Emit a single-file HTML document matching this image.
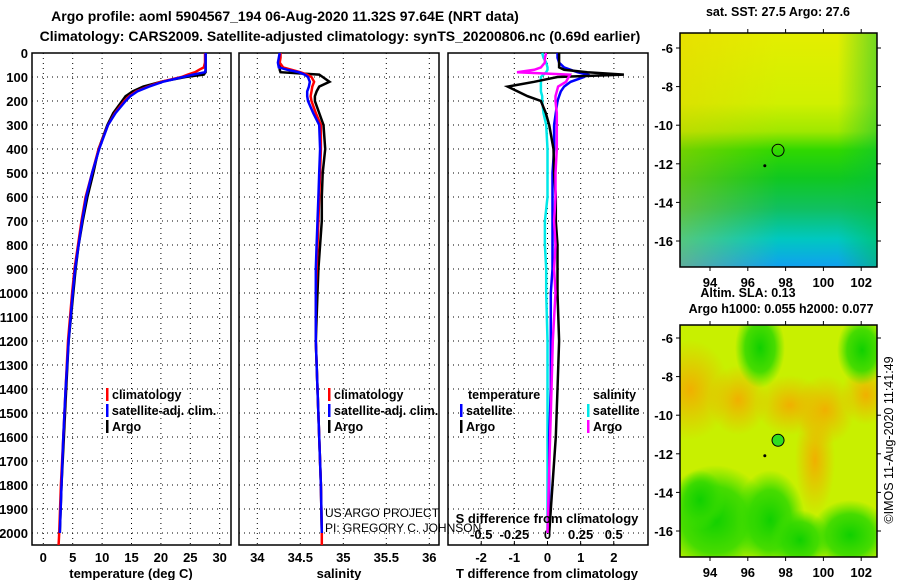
<!DOCTYPE html>
<html><head><meta charset="utf-8">
<style>
html,body{margin:0;padding:0;background:#fff;}
svg{display:block;font-family:"Liberation Sans",sans-serif;font-weight:bold;}
</style></head>
<body>
<svg id="c" width="900" height="580" viewBox="0 0 900 580" xmlns="http://www.w3.org/2000/svg">
<defs>
<linearGradient id="sstg" x1="0" y1="0" x2="0" y2="1">
<stop offset="0" stop-color="#e4ee00"/><stop offset="0.3" stop-color="#d0f000"/><stop offset="0.42" stop-color="#a0e800"/>
<stop offset="0.5" stop-color="#30d800"/><stop offset="0.62" stop-color="#10c820"/><stop offset="0.75" stop-color="#10c060"/>
<stop offset="0.88" stop-color="#00c8c0"/><stop offset="1" stop-color="#10a0f0"/></linearGradient>
<linearGradient id="sstr" x1="0" y1="0" x2="1" y2="0">
<stop offset="0" stop-color="#f0c800" stop-opacity="0.35"/><stop offset="0.5" stop-color="#f0c800" stop-opacity="0"/>
<stop offset="0.8" stop-color="#00c040" stop-opacity="0"/><stop offset="1" stop-color="#00c040" stop-opacity="0.5"/></linearGradient>
<radialGradient id="og"><stop offset="0" stop-color="#f0b000"/><stop offset="1" stop-color="#f0b000" stop-opacity="0"/></radialGradient>
<radialGradient id="gg"><stop offset="0" stop-color="#10d000"/><stop offset="0.6" stop-color="#30d800" stop-opacity="0.85"/><stop offset="1" stop-color="#40e000" stop-opacity="0"/></radialGradient>
<clipPath id="m2c"><rect x="680" y="325" width="197" height="232"/></clipPath>
</defs>
<g id="root"></g>
</svg>
<script>
// ---- data ----
const depth = [0,20,40,60,70,80,90,100,120,140,160,180,200,250,300,400,500,600,700,800,900,1000,1200,1400,1600,1800,2000,2050];
const tClim = [27.5,27.5,27.5,27.3,26.5,25.8,24.6,23.5,20,17.8,15.8,14.6,13.8,12.2,11,9.4,8.3,7.2,6.5,5.9,5.3,4.9,4.2,3.8,3.4,3.0,2.7,2.6];
const tSat  = [27.6,27.6,27.6,27.6,27.6,27.5,25.5,23.8,20.3,18,16,14.8,14,12.3,11,9.5,8.3,7.3,6.6,6.0,5.4,5.0,4.3,3.8,3.4,3.1,2.8];
const tArgo = [27.6,27.6,27.6,27.6,27.6,27.6,27.3,24.2,20,17,15.2,14,13.4,11.9,10.9,9.4,8.5,7.5,6.7,6.0,5.5,5.1,4.3,3.9,3.5,3.1,2.8];
const sClim = [34.27,34.27,34.26,34.3,34.4,34.5,34.58,34.63,34.66,34.64,34.63,34.62,34.63,34.68,34.74,34.74,34.73,34.72,34.71,34.70,34.69,34.68,34.68,34.70,34.72,34.74,34.75,34.75];
const sSat  = [34.26,34.25,34.24,34.25,34.35,34.48,34.55,34.59,34.61,34.60,34.58,34.58,34.59,34.65,34.72,34.73,34.72,34.71,34.70,34.69,34.68,34.68,34.68,34.70,34.72,34.74,34.75];
const sArgo = [34.26,34.26,34.26,34.26,34.26,34.27,34.72,34.76,34.84,34.72,34.69,34.67,34.67,34.72,34.77,34.79,34.76,34.75,34.75,34.73,34.71,34.70,34.68,34.70,34.72,34.74,34.75];
const dTSat  = [0.3,0.3,0.35,0.5,0.7,0.9,1.2,1.1,0.7,0.5,0.4,0.35,0.3,0.25,0.2,0.2,0.15,0.15,0.15,0.15,0.15,0.1,0.1,0.1,0.05,0.05,0.03];
const dTArgo = [0.35,0.35,0.35,0.35,0.5,1.2,2.3,0.3,-0.4,-1.2,-0.9,-0.6,-0.2,-0.05,0.05,0.18,0.2,0.25,0.25,0.3,0.3,0.3,0.35,0.3,0.25,0.15,0.05];
const dSSat  = [-0.04,-0.03,-0.01,0,0,-0.01,-0.03,-0.05,-0.05,-0.05,-0.05,-0.04,-0.04,-0.03,-0.01,0,0,0,-0.02,-0.02,-0.01,-0.01,0,0,0,0,0];
const dSArgo = [-0.01,-0.02,-0.02,-0.05,-0.1,-0.23,0.17,0.16,0.14,0.08,0.07,0.06,0.06,0.07,0.07,0.07,0.06,0.06,0.05,0.06,0.05,0.06,0.04,0.03,0.02,0.01,0];
const depthTicks = [0,100,200,300,400,500,600,700,800,900,1000,1100,1200,1300,1400,1500,1600,1700,1800,1900,2000];
const tTicks = [0,5,10,15,20,25,30];
const sTicks = [34,34.5,35,35.5,36];
const sTickLabels = ["34","34.5","35","35.5","36"];
const dtTicks = [-2,-1,0,1,2];
const dsTicks = [-0.5,-0.25,0,0.25,0.5];
const dsTickLabels = ["-0.5","-0.25","0","0.25","0.5"];
const lonTicks = [94,96,98,100,102];
const latTicks = [-6,-8,-10,-12,-14,-16];
const floatLon = 97.6, floatLat = -11.3;

// ---- scales ----
const yD = d => 53 + d*0.24;
const xT = t => 43.3 + t*5.88;
const xS = s => 257.3 + (s-34)*86;
const xDT = v => 547.5 + v*33.2;
const xDS = v => 547.5 + v*132.5;
const m1x = lo => 710 + (lo-94)*18.9;
const m1y = la => 48 + (-6-la)*19.3;
const m2y = la => 338 + (-6-la)*19.3;

const NS="http://www.w3.org/2000/svg";
const root=document.getElementById('root');
function el(tag,attrs,parent){const e=document.createElementNS(NS,tag);for(const k in attrs)e.setAttribute(k,attrs[k]);(parent||root).appendChild(e);return e;}
function txt(x,y,s,size,anchor,parent){const t=el('text',{x:x,y:y,'font-size':size,'text-anchor':anchor||'start',fill:'#000'},parent);t.textContent=s;return t;}

const panels=[{x0:32,x1:231,name:'temperature-panel'},{x0:239,x1:439,name:'salinity-panel'},{x0:448,x1:648,name:'difference-panel'}];
const Y0=53,Y1=545;

panels.forEach((p,i)=>{
  const g=el('g',{});
  
  
  depthTicks.forEach(d=>{
    const l=el('line',{x1:p.x0,x2:p.x1,y1:yD(d),y2:yD(d),stroke:'#000','stroke-width':1,'stroke-dasharray':'1,4'},g);
    
    
  });
  const xs = i==0?tTicks.map(xT):i==1?sTicks.map(xS):dtTicks.map(xDT);
  xs.forEach(x=>{
    const l=el('line',{x1:x,x2:x,y1:Y0,y2:Y1,stroke:'#000','stroke-width':1,'stroke-dasharray':'1,4'},g);
    
    
  });
  const r=el('rect',{x:p.x0,y:Y0,width:p.x1-p.x0,height:Y1-Y0,fill:'none',stroke:'#000','stroke-width':1.5},g);
  
  
});

depthTicks.forEach(d=>{
  const t=txt(28,yD(d)+5,String(d),13,'end');
  
  
});
tTicks.forEach(v=>{const t=txt(xT(v),562,String(v),13,'middle');
  
  });
sTicks.forEach((v,i)=>{const t=txt(xS(v),562,sTickLabels[i],13,'middle');
  
  });
dtTicks.forEach(v=>{const t=txt(xDT(v),562,String(v),13,'middle');
  
  });
dsTicks.forEach((v,i)=>{const t=txt(xDS(v),539,dsTickLabels[i],13,'middle');
  
  
  const tk=el('line',{x1:xDS(v),x2:xDS(v),y1:Y1-4,y2:Y1,stroke:'#000'});
  
  });

function series(vals,sx,color,name,w){
  const pts=vals.map((v,i)=>sx(v).toFixed(1)+','+yD(depth[i]).toFixed(1)).join(' ');
  const pl=el('polyline',{points:pts,fill:'none',stroke:color,'stroke-width':w||2.5,'stroke-linejoin':'miter'});
  
  
}
series(tArgo,xT,'#000','temperature-argo-line');
series(tClim,xT,'#f00','temperature-climatology-line');
series(tSat,xT,'#00f','temperature-satellite-line');
series(sArgo,xS,'#000','salinity-argo-line');
series(sClim,xS,'#f00','salinity-climatology-line');
series(sSat,xS,'#00f','salinity-satellite-line');
series(dSSat,xDS,'#00e8e8','s-diff-satellite-line');
series(dTSat,xDT,'#00f','t-diff-satellite-line');
series(dTArgo,xDT,'#000','t-diff-argo-line');
series(dSArgo,xDS,'#f0f','s-diff-argo-line');

function legend(x,y,color,label,name){
  const m=el('rect',{x:x,y:y-11,width:2.5,height:13,fill:color});
  
  
  const t=txt(x+6,y,label,12.5);
  
  
}
legend(106,399,'#f00','climatology','legend-climatology');
legend(106,415,'#00f','satellite-adj. clim.','legend-satellite-adj');
legend(106,431,'#000','Argo','legend-argo');
legend(328,399,'#f00','climatology','legend-climatology-2');
legend(328,415,'#00f','satellite-adj. clim.','legend-satellite-adj-2');
legend(328,431,'#000','Argo','legend-argo-2');
let t;
t=txt(468,399,'temperature',12.5);
t=txt(593,399,'salinity',12.5);
legend(460,415,'#00f','satellite','legend-t-satellite');
legend(460,431,'#000','Argo','legend-t-argo');
legend(587,415,'#00e8e8','satellite','legend-s-satellite');
legend(587,431,'#f0f','Argo','legend-s-argo');

t=el('text',{x:325,y:517,'font-size':12,'font-weight':'normal',fill:'#000'});t.textContent='US ARGO PROJECT';

t=el('text',{x:325,y:532,'font-size':12,'font-weight':'normal',fill:'#000'});t.textContent='PI: GREGORY C. JOHNSON';

t=txt(547,523,'S difference from climatology',13,'middle');

t=txt(131,578,'temperature (deg C)',13,'middle');
t=txt(339,578,'salinity',13,'middle');
t=txt(547,578,'T difference from climatology',13,'middle');

t=txt(285,21,'Argo profile: aoml 5904567_194 06-Aug-2020 11.32S 97.64E (NRT data)',14,'middle');
t=txt(340,41,'Climatology: CARS2009. Satellite-adjusted climatology: synTS_20200806.nc (0.69d earlier)',14,'middle');

function mapAxes(yfn,top,bot,name){
  const g=el('g',{});
  
  
  const r=el('rect',{x:680,y:top,width:197,height:bot-top,fill:'none',stroke:'#000','stroke-width':1.5},g);
  
  
  latTicks.forEach(la=>{
    const y=yfn(la);
    el('line',{x1:676,x2:680,y1:y,y2:y,stroke:'#000'},g);
    el('line',{x1:877,x2:881,y1:y,y2:y,stroke:'#000'},g);
    const tt=txt(673,y+5,String(la),13,'end',g);
    
    
  });
  lonTicks.forEach(lo=>{
    const x=m1x(lo);
    el('line',{x1:x,x2:x,y1:top-4,y2:top,stroke:'#000'},g);
    el('line',{x1:x,x2:x,y1:bot,y2:bot+4,stroke:'#000'},g);
    const tt=txt(x,bot+20,String(lo),13,'middle',g);
    
    
  });
}
let m=el('rect',{x:680,y:33,width:197,height:234,fill:'url(#sstg)'});

el('rect',{x:680,y:33,width:197,height:234,fill:'url(#sstr)'});
mapAxes(m1y,33,267,'sst-map');
let c=el('circle',{cx:m1x(floatLon),cy:m1y(floatLat),r:6,fill:'none',stroke:'#000','stroke-width':1});

el('circle',{cx:m1x(96.9),cy:m1y(-12.1),r:1.5,fill:'#000'});
t=txt(778,16,'sat. SST: 27.5 Argo: 27.6',12.5,'middle');
t=txt(748,297,'Altim. SLA: 0.13',12.5,'middle');
t=txt(781,313,'Argo h1000: 0.055 h2000: 0.077',12.5,'middle');

const g2=el('g',{'clip-path':'url(#m2c)'});

el('rect',{x:680,y:325,width:197,height:232,fill:'#c8f000'},g2);
[[690,390,40,50],[738,400,30,35],[790,405,35,30],[825,410,30,35],[866,395,25,30],[815,460,20,55]].forEach(b=>el('ellipse',{cx:b[0],cy:b[1],rx:b[2],ry:b[3],fill:'url(#og)'},g2));
[[760,348,25,40],[715,520,55,55],[770,520,35,50],[800,540,30,30],[850,535,40,35],[862,350,25,35],[700,500,25,30]].forEach(b=>el('ellipse',{cx:b[0],cy:b[1],rx:b[2],ry:b[3],fill:'url(#gg)'},g2));
mapAxes(m2y,325,557,'sla-map');
c=el('circle',{cx:m1x(floatLon),cy:m2y(floatLat),r:6,fill:'#30dd20',stroke:'#000','stroke-width':1});

el('circle',{cx:m1x(96.9),cy:m2y(-12.1),r:1.5,fill:'#000'});

t=el('text',{x:0,y:0,'font-size':12.5,'font-weight':'normal','text-anchor':'middle',fill:'#000',transform:'translate(893,440) rotate(-90)'});
t.textContent='©IMOS 11-Aug-2020 11:41:49';

</script>
</body></html>
